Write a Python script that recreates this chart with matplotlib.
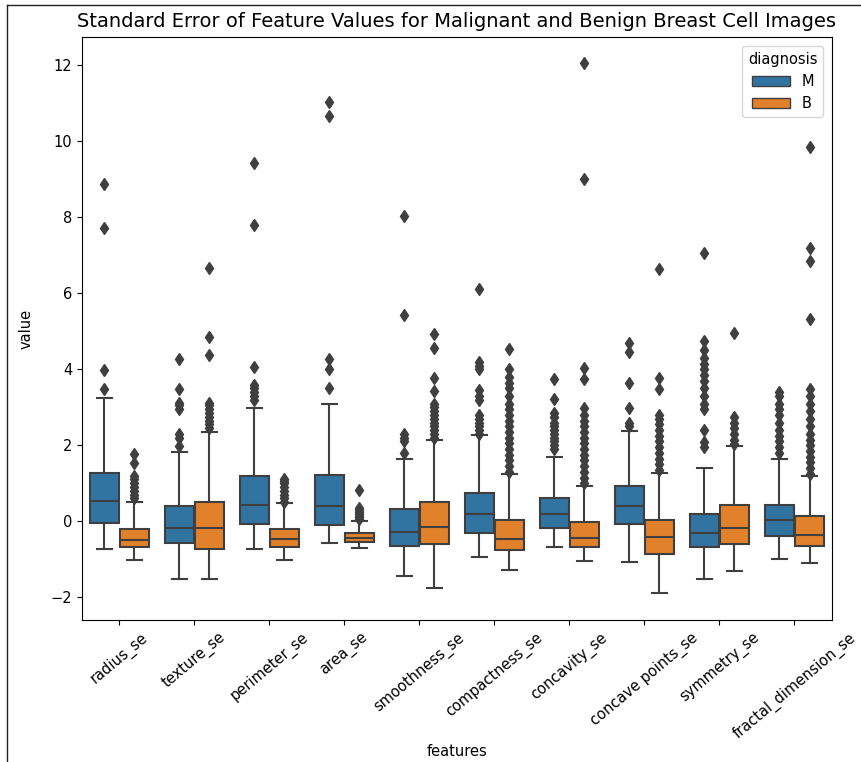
import numpy as np
import matplotlib.pyplot as plt
from matplotlib.patches import Patch
from matplotlib.lines import Line2D

features = ['radius_se', 'texture_se', 'perimeter_se', 'area_se', 'smoothness_se',
            'compactness_se', 'concavity_se', 'concave points_se', 'symmetry_se',
            'fractal_dimension_se']

# box stats: (whislo, q1, median, q3, whishi)
m_stats = [
    (-0.74, -0.04, 0.53, 1.28, 3.24),
    (-1.53, -0.56, -0.19, 0.40, 1.82),
    (-0.74, -0.08, 0.43, 1.18, 2.97),
    (-0.56, -0.11, 0.41, 1.21, 3.10),
    (-1.44, -0.65, -0.27, 0.33, 1.63),
    (-0.94, -0.32, 0.18, 0.75, 2.26),
    (-0.68, -0.17, 0.18, 0.62, 1.69),
    (-1.07, -0.06, 0.40, 0.93, 2.38),
    (-1.51, -0.69, -0.32, 0.20, 1.39),
    (-1.00, -0.40, 0.03, 0.43, 1.63),
]
b_stats = [
    (-1.03, -0.69, -0.49, -0.21, 0.51),
    (-1.53, -0.74, -0.19, 0.51, 2.36),
    (-1.01, -0.69, -0.47, -0.21, 0.47),
    (-0.71, -0.54, -0.43, -0.32, 0.01),
    (-1.76, -0.59, -0.15, 0.51, 2.13),
    (-1.29, -0.76, -0.47, 0.03, 1.24),
    (-1.04, -0.68, -0.44, -0.02, 0.93),
    (-1.89, -0.85, -0.41, 0.03, 1.28),
    (-1.31, -0.61, -0.17, 0.43, 1.98),
    (-1.09, -0.65, -0.37, 0.14, 1.18),
]

m_fliers = [
    [3.49, 3.98, 7.72, 8.89],
    [1.98, 2.2, 2.29, 2.95, 3.05, 3.12, 3.47, 4.26],
    [3.2, 3.3, 3.4, 3.5, 3.6, 4.06, 7.80, 9.44],
    [3.51, 4.02, 4.26, 10.67, 11.04],
    [1.79, 2.1, 2.2, 2.3, 5.43, 8.03],
    [2.3, 2.4, 2.5, 2.6, 2.7, 2.8, 3.2, 3.3, 3.45, 4.0, 4.1, 4.2, 6.12],
    [1.9, 2.0, 2.1, 2.2, 2.3, 2.4, 2.5, 2.6, 2.75, 2.86, 3.21, 3.74],
    [2.5, 2.6, 2.99, 3.65, 4.45, 4.7],
    [1.95, 2.08, 2.39, 2.95, 3.1, 3.3, 3.5, 3.7, 3.85, 4.0, 4.15, 4.3, 4.5, 4.74, 7.07],
    [1.81, 1.95, 2.1, 2.25, 2.4, 2.6, 2.8, 2.95, 3.1, 3.3, 3.4],
]
b_fliers = [
    [0.6, 0.7, 0.8, 0.9, 1.0, 1.1, 1.2, 1.53, 1.76],
    [2.45, 2.55, 2.65, 2.75, 2.85, 2.95, 3.05, 3.12, 4.39, 4.86, 6.66],
    [0.5, 0.6, 0.7, 0.8, 0.9, 1.0, 1.05, 1.12],
    [0.05, 0.1, 0.15, 0.2, 0.25, 0.3, 0.35, 0.82],
    [2.2, 2.3, 2.4, 2.5, 2.6, 2.7, 2.8, 2.9, 3.0, 3.1, 3.43, 3.78, 4.55, 4.92],
    [1.3, 1.45, 1.6, 1.75, 1.9, 2.05, 2.2, 2.35, 2.5, 2.65, 2.8, 2.95, 3.1, 3.3, 3.5,
     3.65, 3.8, 4.0, 4.53],
    [1.0, 1.15, 1.3, 1.45, 1.6, 1.75, 1.9, 2.05, 2.2, 2.35, 2.5, 2.65, 2.8, 2.99,
     3.74, 4.04, 9.0, 12.07],
    [1.35, 1.5, 1.65, 1.8, 1.95, 2.1, 2.25, 2.4, 2.55, 2.7, 2.8, 3.47, 3.76, 6.65],
    [2.03, 2.15, 2.3, 2.45, 2.6, 2.74, 4.96],
    [1.25, 1.4, 1.55, 1.7, 1.85, 2.0, 2.15, 2.3, 2.5, 2.7, 2.9, 3.1, 3.3, 3.47,
     5.33, 6.85, 7.2, 9.85],
]

hue_levels = ['M', 'B']
colors = ['#3274a1', '#e1812c']
edge = '#3f3f3f'


def make_stats(stats, fliers):
    out = []
    for (lo, q1, med, q3, hi), fl in zip(stats, fliers):
        out.append(dict(whislo=lo, q1=q1, med=med, q3=q3, whishi=hi, fliers=fl))
    return out


fig = plt.figure(figsize=(8.62, 7.62), dpi=100)
ax = fig.add_axes([82 / 862, 1 - 620 / 762, 750 / 862, 583 / 762])

x = np.arange(len(features))
for k, (stats, fliers) in enumerate([(m_stats, m_fliers), (b_stats, b_fliers)]):
    pos = x - 0.2 + 0.4 * k
    ax.bxp(make_stats(stats, fliers), positions=pos, widths=0.39, patch_artist=True,
           boxprops=dict(facecolor=colors[k], edgecolor=edge, linewidth=1.5),
           medianprops=dict(color=edge, linewidth=1.5),
           whiskerprops=dict(color=edge, linewidth=1.5),
           capprops=dict(color=edge, linewidth=1.5),
           flierprops=dict(marker='d', markerfacecolor=edge, markeredgecolor=edge,
                           markersize=6, linestyle='none'),
           manage_ticks=False)

ax.set_xlim(-0.5, len(features) - 0.5)
ax.set_ylim(-2.6, 12.75)
ax.set_xticks(x)
ax.set_xticklabels(features, rotation=40, ha='center', fontsize=10.5)
ax.set_yticks([-2, 0, 2, 4, 6, 8, 10, 12])
ax.tick_params(axis='y', labelsize=10.5)
ax.set_xlabel('features', fontsize=10.5, labelpad=2)
ax.set_ylabel('value', fontsize=10.5, labelpad=12)
ax.set_title('Standard Error of Feature Values for Malignant and Benign Breast Cell Images',
             fontsize=14, pad=7)

handles = [Patch(facecolor=c, edgecolor=edge, label=l) for c, l in zip(colors, hue_levels)]
ax.legend(handles=handles, title='diagnosis', loc='upper right', fontsize=10.5,
          title_fontsize=10.5, handlelength=2.6, borderaxespad=0.6)

# screenshot border
fig.add_artist(Line2D([7 / 862, 7 / 862], [0, 1 - 5 / 762], color='#222222', lw=1))
fig.add_artist(Line2D([7 / 862, 1], [1 - 5 / 762, 1 - 5 / 762], color='#222222', lw=1))

fig.savefig('out.png', dpi=100)
